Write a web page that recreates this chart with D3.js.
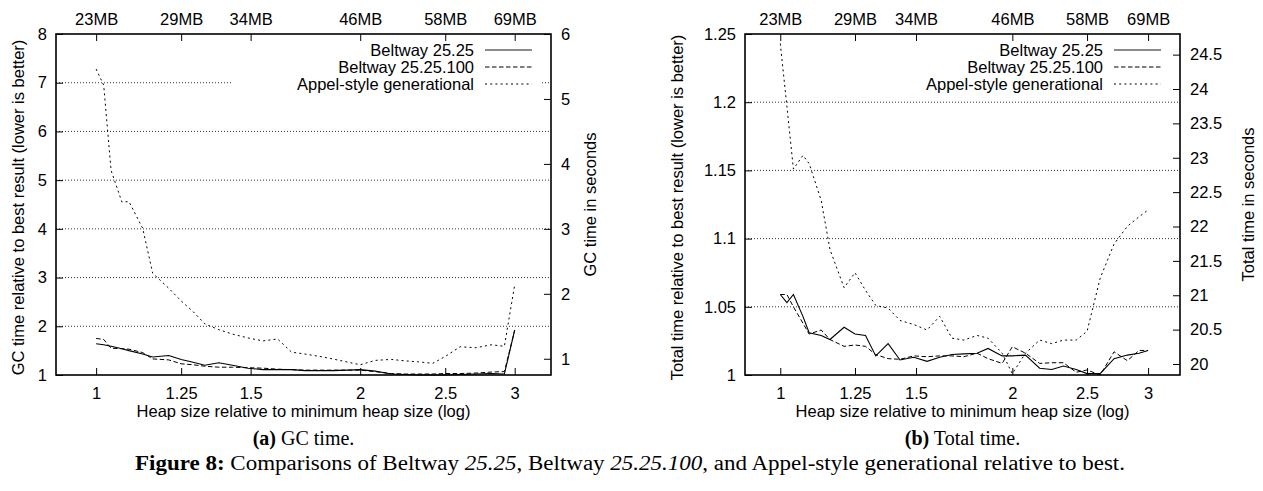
<!DOCTYPE html>
<html><head><meta charset="utf-8">
<script src="https://cdn.jsdelivr.net/npm/d3@7"></script>
<style>
html,body{margin:0;padding:0;background:#fff;}
svg{display:block;}
.tick text{font-family:"Liberation Sans",Arial,Helvetica,sans-serif;font-size:16.5px;fill:#000;}
</style></head>
<body>
<svg id="chart" width="1263" height="491"></svg>
<script>
// ---------- data ----------
const heap = [1.00,1.02,1.04,1.07,1.09,1.13,1.16,1.21,1.25,1.29,1.33,1.38,1.43,1.49,1.55,1.61,1.67,1.73,1.80,1.86,1.94,2.00,2.08,2.17,2.25,2.33,2.42,2.50,2.60,2.71,2.82,2.92,3.00];

// (a) GC time relative to best
const gcBeltway = [1.64,1.62,1.59,1.54,1.50,1.43,1.37,1.40,1.32,1.26,1.20,1.25,1.20,1.14,1.11,1.11,1.11,1.09,1.09,1.09,1.10,1.11,1.08,1.02,1.01,1.00,1.00,1.00,1.01,1.02,1.03,1.02,1.92];
const gcBeltway100 = [1.75,1.73,1.55,1.54,1.53,1.46,1.33,1.31,1.23,1.21,1.18,1.16,1.16,1.15,1.14,1.12,1.11,1.10,1.10,1.10,1.10,1.10,1.07,1.03,1.02,1.02,1.02,1.03,1.03,1.04,1.06,1.07,1.92];
const gcAppel = [7.28,6.95,5.20,4.55,4.56,4.01,3.09,2.78,2.52,2.30,2.05,1.93,1.84,1.76,1.70,1.74,1.47,1.43,1.38,1.33,1.26,1.21,1.30,1.32,1.29,1.27,1.24,1.38,1.58,1.56,1.62,1.59,2.85];

// (b) Total time relative to best
const totBeltway = [1.059,1.053,1.059,1.043,1.031,1.029,1.026,1.035,1.030,1.029,1.014,1.023,1.011,1.013,1.010,1.013,1.015,1.0155,1.016,1.0195,1.014,1.014,1.0146,1.005,1.004,1.0066,1.004,1.001,1.001,1.012,1.0146,1.016,1.018];
const totBeltway100 = [1.059,1.059,1.050,1.038,1.030,1.033,1.026,1.021,1.022,1.021,1.015,1.012,1.0115,1.014,1.0134,1.014,1.014,1.0134,1.016,1.012,1.0085,1.0207,1.016,1.0085,1.009,1.009,1.002,1.0037,1.000,1.017,1.0105,1.018,1.018];
const totAppel = [1.243,1.197,1.151,1.161,1.155,1.128,1.092,1.064,1.075,1.062,1.051,1.049,1.040,1.037,1.033,1.043,1.027,1.0256,1.029,1.027,1.016,1.001,1.016,1.0256,1.023,1.0256,1.0256,1.032,1.071,1.096,1.109,1.116,1.121];

const seriesNames = ["Beltway 25.25","Beltway 25.25.100","Appel-style generational"];

const xTicks = [1,1.25,1.5,2,2.5,3];
const xTickLabels = ["1","1.25","1.5","2","2.5","3"];
const mbLabels = ["23MB","29MB","34MB","46MB","58MB","69MB"];
const gcTicks = [1,2,3,4,5,6,7,8];
const gcGrid = [2,3,4,5,6,7];
const gcSecTicks = [1,2,3,4,5,6];
const totTicks = [1,1.05,1.1,1.15,1.2,1.25];
const totTickLabels = ["1","1.05","1.1","1.15","1.2","1.25"];
const totGrid = [1.05,1.1,1.15,1.2];
const totSecTicks = [20,20.5,21,21.5,22,22.5,23,23.5,24,24.5];

// ---------- drawing ----------
const svg = d3.select("#chart");
const FONT = '"Liberation Sans",Arial,Helvetica,sans-serif';
const SERIF = '"Liberation Serif","Times New Roman",serif';
const FS = 16.5;
const styles = [
  {dash:null, width:1.1, legendColor:"#666", legendWidth:1.6},
  {dash:"4.5,2.5", width:1.0, legendColor:"#000", legendWidth:1.0},
  {dash:"2,3.2", width:1.0, legendColor:"#000", legendWidth:1.0}
];

function panel(cfg){
  const g = svg.append("g");
  const x = d3.scaleLog().domain([0.9,3.3]).range([cfg.L,cfg.R]);
  const y = d3.scaleLinear().domain(cfg.yDomain).range([cfg.B,cfg.T]);
  const y2 = d3.scaleLinear().domain(cfg.y2Domain).range([cfg.B,cfg.T]);

  // grid
  g.append("g").selectAll("line").data(cfg.grid).join("line")
    .attr("x1",cfg.L).attr("x2",cfg.R)
    .attr("y1",d=>y(d)).attr("y2",d=>y(d))
    .attr("stroke","#000").attr("stroke-width",0.8).attr("stroke-dasharray","1,2");

  // legend background (opaque key box)
  g.append("rect").attr("x",cfg.keyBox[0]).attr("y",cfg.T+2)
    .attr("width",cfg.keyBox[1]-cfg.keyBox[0]).attr("height",cfg.keyBox[2])
    .attr("fill","#fff");

  // axes
  const ax = (a)=>a.tickSizeOuter(0);
  g.append("g").attr("transform",`translate(0,${cfg.B})`)
    .call(ax(d3.axisBottom(x).tickValues(xTicks).tickFormat((d,i)=>xTickLabels[i]).tickSizeInner(-7).tickPadding(12)));
  g.append("g").attr("transform",`translate(0,${cfg.T})`)
    .call(ax(d3.axisTop(x).tickValues(xTicks).tickFormat((d,i)=>mbLabels[i]).tickSizeInner(-7).tickPadding(9)));
  g.append("g").attr("transform",`translate(${cfg.L},0)`)
    .call(ax(d3.axisLeft(y).tickValues(cfg.yTicks).tickFormat((d,i)=>cfg.yLabels[i]).tickSizeInner(-7).tickPadding(9)));
  g.append("g").attr("transform",`translate(${cfg.R},0)`)
    .call(ax(d3.axisRight(y2).tickValues(cfg.y2Ticks).tickFormat(d3.format("~g")).tickSizeInner(-7).tickPadding(10)));
  g.selectAll(".domain").remove();
  g.selectAll(".tick line").attr("stroke","#000").attr("stroke-width",1);

  // data lines
  const line = d3.line().x((d,i)=>x(heap[i])).y(d=>y(d));
  cfg.series.forEach((s,k)=>{
    g.append("path").datum(s).attr("d",line)
      .attr("fill","none").attr("stroke","#000")
      .attr("stroke-width",styles[k].width)
      .attr("stroke-dasharray",styles[k].dash);
  });

  // frame
  g.append("rect").attr("x",cfg.L).attr("y",cfg.T)
    .attr("width",cfg.R-cfg.L).attr("height",cfg.B-cfg.T)
    .attr("fill","none").attr("stroke","#000").attr("stroke-width",1.6);

  // legend
  const lg = g.append("g");
  seriesNames.forEach((n,k)=>{
    const yy = cfg.keyY + k*17;
    lg.append("text").attr("x",cfg.keyTextR).attr("y",yy).attr("dy","0.35em")
      .attr("text-anchor","end").attr("font-family",FONT).attr("font-size",FS).text(n);
    lg.append("line").attr("x1",cfg.keyTextR+11).attr("x2",cfg.keyTextR+58)
      .attr("y1",yy).attr("y2",yy)
      .attr("stroke",styles[k].legendColor).attr("stroke-width",styles[k].legendWidth)
      .attr("stroke-dasharray",styles[k].dash);
  });

  // axis titles
  const cy = (cfg.T+cfg.B)/2 + 3;
  g.append("text").attr("transform",`translate(${cfg.yTitleX},${cy}) rotate(-90)`)
    .attr("text-anchor","middle").attr("dy","0.35em")
    .attr("font-family",FONT).attr("font-size",FS).text(cfg.yTitle);
  g.append("text").attr("transform",`translate(${cfg.y2TitleX},${(cfg.T+cfg.B)/2})  rotate(-90)`)
    .attr("text-anchor","middle").attr("dy","0.35em")
    .attr("font-family",FONT).attr("font-size",FS).text(cfg.y2Title);
  g.append("text").attr("x",(cfg.L+cfg.R)/2).attr("y",411).attr("dy","0.35em")
    .attr("text-anchor","middle").attr("font-family",FONT).attr("font-size",FS)
    .text("Heap size relative to minimum heap size (log)");
  const cap = g.append("text").attr("x",(cfg.L+cfg.R)/2).attr("y",438).attr("dy","0.35em")
    .attr("text-anchor","middle").attr("font-family",SERIF).attr("font-size",20);
  cap.append("tspan").attr("font-weight","bold").text(cfg.capA);
  cap.append("tspan").text(cfg.capB);
}

panel({
  L:56,R:551,T:34,B:375,
  yDomain:[1,8], y2Domain:[0.75,6],
  yTicks:gcTicks, yLabels:gcTicks.map(String), y2Ticks:gcSecTicks, grid:gcGrid,
  series:[gcBeltway,gcBeltway100,gcAppel],
  keyBox:[233,541,58], keyY:50, keyTextR:474,
  yTitle:"GC time relative to best result (lower is better)", yTitleX:18,
  y2Title:"GC time in seconds", y2TitleX:590,
  capA:"(a)", capB:" GC time."
});
panel({
  L:745,R:1180,T:34,B:375,
  yDomain:[1,1.25], y2Domain:[19.84,24.8],
  yTicks:totTicks, yLabels:totTickLabels, y2Ticks:totSecTicks, grid:totGrid,
  series:[totBeltway,totBeltway100,totAppel],
  keyBox:[880,1172,58], keyY:50, keyTextR:1103,
  yTitle:"Total time relative to best result (lower is better)", yTitleX:677,
  y2Title:"Total time in seconds", y2TitleX:1248,
  capA:"(b)", capB:" Total time."
});

const fig = svg.append("text").attr("x",630).attr("y",463).attr("dy","0.35em")
  .attr("text-anchor","middle").attr("font-family",SERIF).attr("font-size",20)
  .attr("textLength",990).attr("lengthAdjust","spacingAndGlyphs");
fig.append("tspan").attr("font-weight","bold").text("Figure 8:");
fig.append("tspan").text(" Comparisons of Beltway ");
fig.append("tspan").attr("font-style","italic").text("25.25");
fig.append("tspan").text(", Beltway ");
fig.append("tspan").attr("font-style","italic").text("25.25.100");
fig.append("tspan").text(", and Appel-style generational relative to best.");
</script>
</body></html>
